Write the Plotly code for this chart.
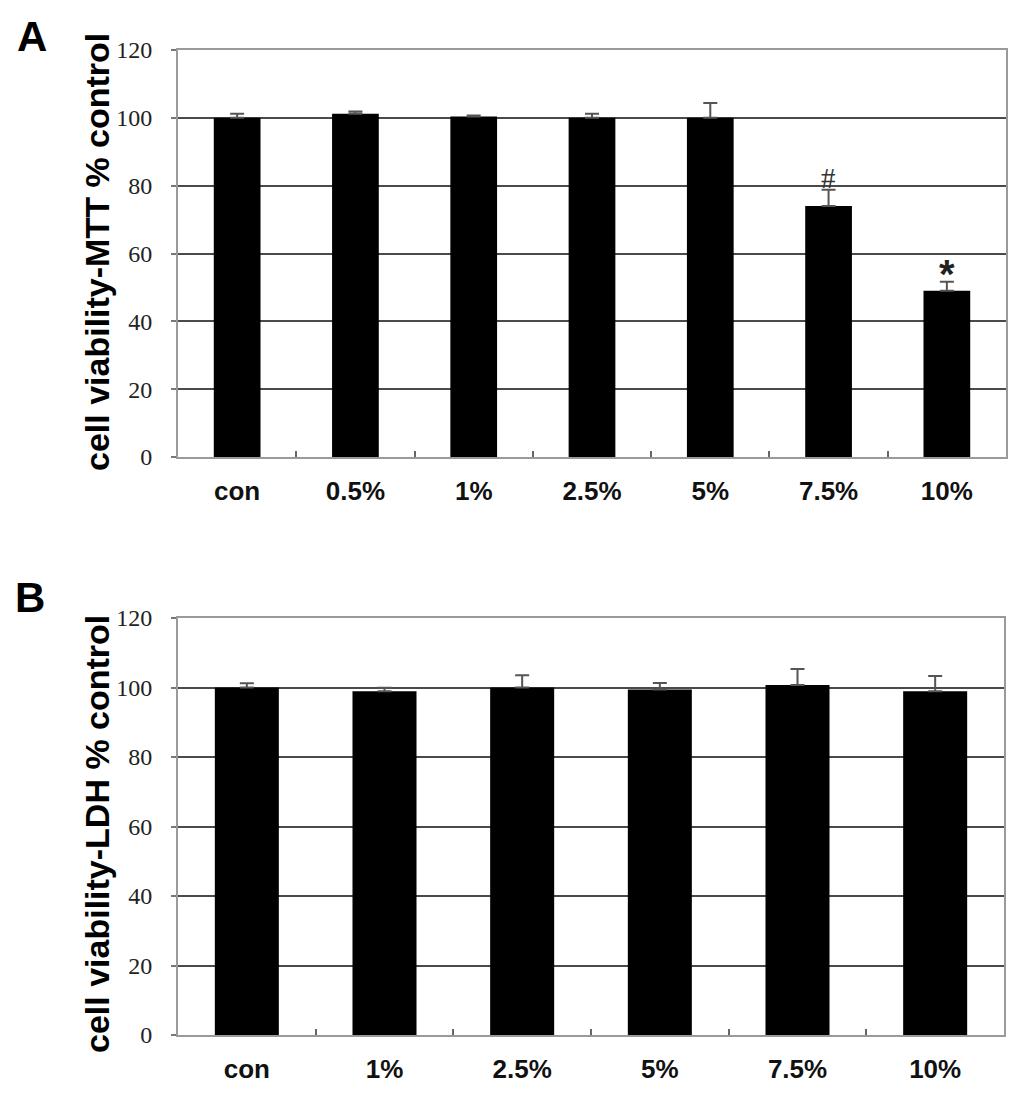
import plotly.graph_objects as go

# --- dados ---
mtt_cats = ["con", "0.5%", "1%", "2.5%", "5%", "7.5%", "10%"]
mtt_vals = [100, 101.2, 100.4, 100, 100, 74, 49]
mtt_err = [1.2, 0.7, 0.3, 1.2, 4.4, 4.8, 2.7]

ldh_cats = ["con", "1%", "2.5%", "5%", "7.5%", "10%"]
ldh_vals = [100, 98.9, 100, 99.4, 100.7, 98.9]
ldh_err = [1.2, 1.0, 3.5, 1.9, 4.6, 4.4]

y_ticks = [0, 20, 40, 60, 80, 100, 120]

W, H = 1024, 1095
OFF = 8  # margem do body da página
GRID = "#4a4a4a"
BORDER = "#9a9a9a"
SANS = "Liberation Sans, Arial, sans-serif"
SERIF = "Liberation Serif, Times New Roman, serif"


def px_x(p):
    return (p - OFF) / W


def px_y(p):
    return 1 - (p - OFF) / H


fig = go.Figure()

fig.add_trace(go.Bar(
    x=mtt_cats, y=mtt_vals,
    marker=dict(color="black", line=dict(width=0)),
    width=0.395,
    error_y=dict(type="data", array=mtt_err, arrayminus=[0] * len(mtt_err),
                 symmetric=False, color="#555555", thickness=2, width=7),
    xaxis="x", yaxis="y", showlegend=False,
))

fig.add_trace(go.Bar(
    x=ldh_cats, y=ldh_vals,
    marker=dict(color="black", line=dict(width=0)),
    width=0.465,
    error_y=dict(type="data", array=ldh_err, arrayminus=[0] * len(ldh_err),
                 symmetric=False, color="#555555", thickness=2, width=7),
    xaxis="x2", yaxis="y2", showlegend=False,
))

xaxis_common = dict(
    type="category",
    automargin=False,
    showgrid=False,
    showline=True, linecolor=BORDER, linewidth=2, mirror=True,
    ticks="inside", tickson="boundaries", ticklen=6, tickcolor="#666666", tickwidth=2,
    tickfont=dict(family=SANS, size=26, color="#111111", weight="bold"),
    ticklabelstandoff=10,
    fixedrange=True,
)
yaxis_common = dict(
    automargin=False,
    range=[0, 120],
    tickvals=y_ticks,
    showgrid=True, gridcolor=GRID, gridwidth=2,
    showline=True, linecolor=BORDER, linewidth=2, mirror=True,
    ticks="outside", ticklen=5, tickcolor="#777777", tickwidth=2,
    tickfont=dict(family=SERIF, size=24, color="#222222"),
    ticklabelstandoff=14,
    zeroline=False,
    fixedrange=True,
)

fig.update_layout(
    width=W, height=H,
    paper_bgcolor="white", plot_bgcolor="white",
    margin=dict(l=0, r=0, t=0, b=0),
    bargap=0.5,
    xaxis=dict(domain=[px_x(178), px_x(1006)], anchor="y", **xaxis_common),
    yaxis=dict(domain=[px_y(457), px_y(50)], anchor="x", **yaxis_common),
    xaxis2=dict(domain=[px_x(178), px_x(1004)], anchor="y2", **xaxis_common),
    yaxis2=dict(domain=[px_y(1035), px_y(618)], anchor="x2", **yaxis_common),
)

title_font = dict(family=SANS, size=34, color="black", weight="bold")


def paper_text(text, x, y, font, angle=0):
    fig.add_annotation(text=text, textangle=angle, x=px_x(x), y=px_y(y),
                       xref="paper", yref="paper", xanchor="center", yanchor="middle",
                       showarrow=False, font=font)


# títulos do eixo y
paper_text("cell viability-MTT % control", 97, 252, title_font, angle=-90)
paper_text("cell viability-LDH % control", 97, 834, title_font, angle=-90)

# letras dos painéis
letter_font = dict(family=SANS, size=42, color="black", weight="bold")
paper_text("A", 32, 37, letter_font)
paper_text("B", 30, 597, letter_font)

# marcas de significância
fig.add_annotation(text="#", x="7.5%", y=mtt_vals[5] + mtt_err[5], xref="x", yref="y",
                   yanchor="bottom", yshift=-6, showarrow=False,
                   font=dict(family=SERIF, size=29, color="#333333"))
fig.add_annotation(text="*", x="10%", y=mtt_vals[6] + mtt_err[6], xref="x", yref="y",
                   yanchor="bottom", yshift=-16, showarrow=False,
                   font=dict(family=SANS, size=40, color="#222222", weight="bold"))

fig.write_html("out.html")
